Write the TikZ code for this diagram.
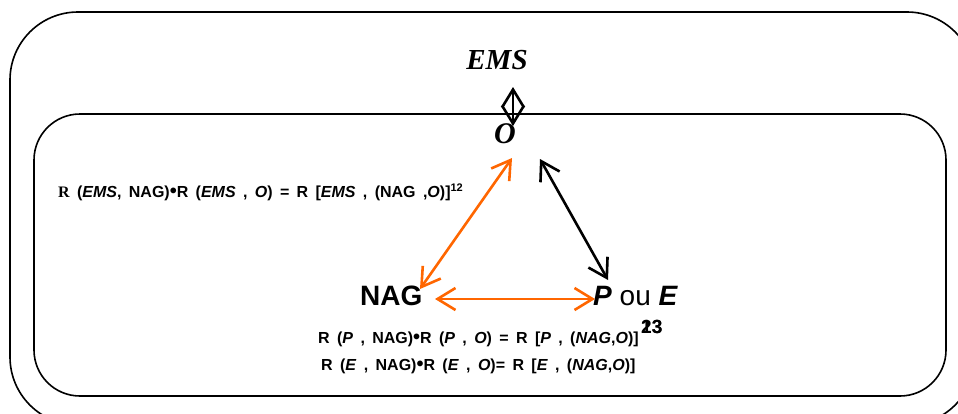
\documentclass[tikz,border=0pt]{standalone}
\usepackage{fontspec}
\setmainfont{Liberation Serif}
\setsansfont{Liberation Sans}
\usetikzlibrary{arrows.meta}
\definecolor{arrorange}{RGB}{255,102,0}
\newcommand\myformulafont{\sffamily\bfseries\fontsize{16}{19}\selectfont\spaceskip 0.46em\relax}
\tikzset{
  boxline/.style={line width=1.6pt, rounded corners=#1},
  dbl/.style={line width=2.6pt, {Straight Barb[length=18pt,width=22pt,line width=2.6pt]}-{Straight Barb[length=18pt,width=22pt,line width=2.6pt]}},
  formula/.style={inner sep=0pt, anchor=base west, font=\myformulafont},
}
\begin{document}
\begin{tikzpicture}[x=1pt,y=-1pt]
\useasboundingbox (0,0) rectangle (958,413);
\clip (0,0) rectangle (958,413);
% boxes
\draw[boxline=68pt] (10,12) rectangle (975,425);
\draw[boxline=46pt] (34,114) rectangle (946,396);
% labels
\node[inner sep=0pt, anchor=base] (ems) at (497,69) {\fontsize{29}{34}\selectfont\bfseries\itshape EMS};
\node[inner sep=0pt, anchor=base] (O) at (505,143) {\fontsize{30}{34}\selectfont\bfseries\itshape O};
\node[inner sep=0pt, anchor=base west] (nag) at (360,305) {\sffamily\bfseries\fontsize{28}{32}\selectfont NAG};
\node[inner sep=0pt, anchor=base west] (pe) at (593,305) {\sffamily\fontsize{28}{32}\selectfont\textbf{\textit{P}} ou \textbf{\textit{E}}};
\node[inner sep=0pt, anchor=base west] (n13) at (641,333) {\sffamily\bfseries\fontsize{19}{22}\selectfont 13};
\node[inner sep=0pt, anchor=base west] (n23) at (641,333) {\sffamily\bfseries\fontsize{19}{22}\selectfont 23};
\node[formula] (f1) at (58,197) {{\rmfamily R} (\textit{EMS}, NAG)\raisebox{-0.5pt}{\fontsize{20}{20}\selectfont•}R (\textit{EMS} , \textit{O}) = R [\textit{EMS} , (NAG ,\textit{O})]\raisebox{6pt}{\fontsize{11}{12}\selectfont 12}};
\node[formula] (f2) at (318,343) {R (\textit{P} , NAG)\raisebox{-0.5pt}{\fontsize{20}{20}\selectfont•}R (\textit{P} , \textit{O}) = R [\textit{P} , (\textit{NAG},\textit{O})]};
\node[formula] (f3) at (321,370) {R (\textit{E} , NAG)\raisebox{-0.5pt}{\fontsize{20}{20}\selectfont•}R (\textit{E} , \textit{O})= R [\textit{E} , (\textit{NAG},\textit{O})]};
% connector anchors
\coordinate (emsB) at (513,87);
\coordinate (oT) at (513,126);
\coordinate (oL) at (512,158);
\coordinate (nagT) at (420,289);
\coordinate (oR) at (540,159);
\coordinate (peT) at (608,280);
\coordinate (nagR) at (435,299);
\coordinate (peL) at (595,299);
% arrows
\draw[dbl] (emsB) -- (oT);
\draw[dbl, arrorange] (oL) -- (nagT);
\draw[dbl] (oR) -- (peT);
\draw[dbl, arrorange] (nagR) -- (peL);
\end{tikzpicture}
\end{document}
